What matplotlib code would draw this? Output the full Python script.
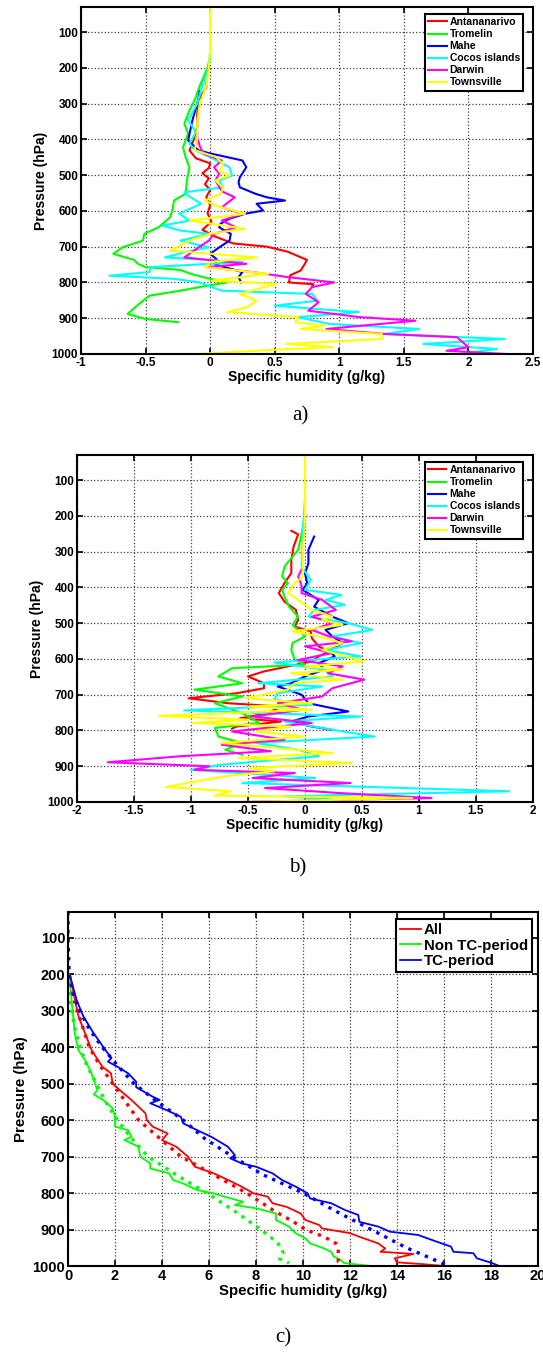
import numpy as np
import matplotlib
matplotlib.use("Agg")
import matplotlib.pyplot as plt

plt.rcParams['font.family'] = ['Liberation Sans', 'DejaVu Sans']

stations = ['Antananarivo', 'Tromelin', 'Mahe', 'Cocos islands', 'Darwin', 'Townsville']
colors = ['#ff0000', '#00ff00', '#0000ff', '#00ffff', '#ff00ff', '#ffff00']

# ---- panel a) ----
a_p_red = [243, 254, 291, 330, 366, 403, 431, 453, 467, 480, 495, 509, 525, 542, 561, 584, 607, 630, 653, 672, 691, 700, 714, 737, 750, 767, 780, 800, 805, 811]
a_q_red = [-0.03, -0.03, -0.09, -0.1, -0.1, -0.13, -0.16, -0.11, 0.0, -0.01, -0.06, -0.01, -0.04, 0.0, -0.03, 0.0, -0.02, 0.01, -0.06, 0.04, 0.18, 0.44, 0.6, 0.75, 0.73, 0.7, 0.62, 0.61, 0.8, 0.79]
a_p_green = [170, 200, 250, 290, 319, 356, 384, 422, 450, 478, 515, 552, 571, 595, 618, 646, 664, 683, 702, 720, 737, 748, 757, 765, 776, 790, 800, 812, 823, 837, 860, 888, 902, 911]
a_q_green = [0.0, -0.02, -0.08, -0.12, -0.16, -0.2, -0.17, -0.21, -0.19, -0.16, -0.18, -0.19, -0.28, -0.29, -0.31, -0.4, -0.51, -0.52, -0.68, -0.75, -0.59, -0.56, -0.5, -0.23, -0.15, 0.0, 0.13, -0.07, -0.23, -0.47, -0.55, -0.64, -0.5, -0.25]
a_p_blue = [265, 300, 350, 403, 431, 440, 459, 478, 506, 520, 534, 552, 562, 571, 580, 599, 608, 622, 636, 646, 664, 683, 702, 720, 735, 750, 771, 785, 800]
a_q_blue = [-0.08, -0.1, -0.14, -0.17, -0.09, 0.01, 0.25, 0.28, 0.23, 0.22, 0.23, 0.35, 0.44, 0.58, 0.36, 0.41, 0.27, 0.15, 0.08, 0.07, 0.16, 0.15, 0.07, 0.0, 0.05, 0.04, 0.25, 0.22, 0.24]
a_p_cyan = [150, 200, 250, 300, 347, 380, 412, 430, 450, 478, 501, 515, 534, 548, 560, 580, 608, 627, 641, 655, 664, 683, 702, 716, 730, 743, 757, 771, 781, 790, 800, 823, 832, 851, 865, 883, 897, 916, 930, 944, 958, 972, 986, 1000]
a_q_cyan = [0.0, -0.01, -0.06, -0.1, -0.17, -0.11, -0.16, -0.12, 0.0, 0.15, 0.17, 0.07, 0.1, -0.2, -0.16, -0.07, -0.24, -0.16, -0.37, -0.23, -0.01, -0.23, -0.01, -0.2, -0.35, 0.25, -0.46, -0.47, -0.78, -0.28, -0.08, 0.09, 0.79, 0.83, 0.5, 1.15, 0.68, 0.92, 1.62, 1.35, 2.28, 1.65, 2.22, 1.94]
a_p_mag = [380, 394, 420, 440, 459, 478, 496, 515, 545, 562, 590, 608, 627, 646, 664, 683, 702, 730, 748, 757, 771, 785, 800, 813, 832, 855, 879, 897, 907, 930, 944, 953, 981, 991, 1000]
a_q_mag = [-0.1, -0.1, -0.08, -0.05, 0.09, 0.03, 0.07, 0.04, 0.09, 0.19, 0.09, 0.25, 0.09, 0.2, 0.03, -0.01, -0.09, -0.2, 0.28, -0.03, 0.33, 0.6, 0.96, 0.79, 0.74, 0.84, 0.76, 1.16, 1.59, 0.9, 1.35, 1.91, 2.0, 1.83, 2.3]
a_p_yel = [30, 150, 200, 250, 300, 350, 400, 430, 450, 470, 490, 501, 515, 535, 552, 571, 585, 608, 627, 650, 664, 683, 711, 730, 743, 757, 776, 795, 804, 820, 832, 851, 869, 883, 897, 911, 921, 930, 944, 958, 972, 981, 989, 1000]
a_q_yel = [0.0, 0.0, -0.01, -0.03, -0.08, -0.1, -0.1, -0.12, 0.05, 0.1, 0.07, 0.15, 0.04, 0.1, 0.08, -0.04, 0.04, 0.27, -0.16, 0.27, 0.0, -0.16, -0.31, 0.36, 0.0, -0.04, 0.45, 0.01, 0.51, 0.35, 0.23, 0.36, 0.29, 0.13, 0.68, 0.66, 0.88, 0.7, 1.33, 1.33, 0.59, 0.95, 0.45, -0.11]

# ---- panel b) ----
b_p_red = [242, 252, 286, 323, 360, 388, 416, 440, 463, 491, 510, 523, 542, 565, 579, 593, 607, 621, 635, 649, 668, 682, 696, 710, 724, 733, 752, 766, 775, 789, 795]
b_q_red = [-0.12, -0.06, -0.1, -0.12, -0.12, -0.18, -0.23, -0.18, -0.08, -0.06, -0.09, 0.05, 0.06, 0.12, 0.21, 0.12, 0.06, -0.15, -0.36, -0.5, -0.36, -0.36, -0.6, -1.02, -0.67, -0.21, -0.33, -0.57, -0.21, -0.6, -0.64]
b_p_green = [200, 250, 295, 342, 370, 388, 407, 426, 454, 482, 505, 537, 556, 575, 603, 616, 626, 649, 668, 686, 705, 724, 752, 779, 793, 817, 835, 854, 868]
b_q_green = [0.0, -0.03, -0.06, -0.18, -0.2, -0.15, -0.2, -0.18, -0.14, -0.06, -0.11, 0.0, -0.11, -0.12, -0.09, 0.0, -0.64, -0.76, -0.55, -0.97, -0.55, -0.79, -0.55, -0.4, -0.79, -0.76, -0.55, -0.7, -0.55]
b_p_blue = [258, 295, 333, 361, 388, 407, 435, 454, 482, 500, 519, 537, 556, 575, 593, 612, 630, 649, 668, 677, 700, 724, 747, 761, 775, 789, 798]
b_q_blue = [0.08, 0.03, 0.03, 0.0, 0.02, -0.02, 0.12, 0.08, 0.24, 0.38, 0.18, 0.24, 0.33, 0.21, 0.26, 0.12, 0.17, 0.0, -0.12, -0.24, -0.03, 0.03, 0.38, 0.03, -0.12, 0.06, 0.23]
b_p_cyan = [150, 250, 342, 379, 407, 421, 435, 449, 463, 482, 500, 519, 537, 556, 575, 593, 610, 630, 649, 668, 677, 696, 714, 728, 744, 761, 775, 798, 817, 835, 854, 872, 896, 910, 933, 947, 970, 984, 993, 1000]
b_q_cyan = [0.0, -0.02, -0.03, 0.05, 0.0, 0.32, 0.18, 0.35, 0.08, 0.03, 0.38, 0.59, 0.24, 0.49, 0.18, 0.49, -0.27, 0.17, 0.24, -0.41, 0.15, -0.24, -0.27, 0.06, -1.06, 0.49, -0.18, 0.24, 0.61, -0.43, -0.06, 0.12, -0.74, -1.0, 0.09, -0.55, 1.79, -0.18, 0.24, -0.12]
b_p_mag = [350, 370, 395, 416, 435, 463, 482, 500, 519, 537, 551, 565, 584, 603, 621, 640, 658, 682, 705, 724, 742, 761, 779, 803, 826, 840, 858, 872, 889, 900, 910, 919, 933, 947, 961, 975, 989, 1000]
b_q_mag = [-0.03, -0.06, -0.03, -0.03, 0.15, 0.27, 0.06, 0.24, 0.06, 0.21, 0.41, 0.0, 0.23, -0.06, 0.33, 0.2, 0.52, 0.24, 0.15, -0.24, -0.02, -0.46, 0.06, -0.64, -0.18, -0.73, -0.3, -1.09, -1.73, -0.84, -0.97, -0.09, -0.46, 0.4, -0.35, 0.3, 1.11, -0.58]
b_p_yel = [30, 200, 300, 370, 388, 416, 435, 463, 482, 491, 505, 523, 537, 556, 575, 593, 607, 621, 630, 640, 658, 668, 686, 710, 724, 733, 742, 759, 770, 779, 789, 803, 817, 835, 849, 863, 877, 891, 905, 914, 928, 958, 970, 982, 989, 1000]
b_q_yel = [0.0, 0.0, -0.02, -0.02, -0.09, -0.15, -0.06, 0.06, 0.24, 0.15, 0.33, -0.11, 0.12, 0.33, 0.15, 0.36, 0.52, 0.0, 0.33, -0.12, 0.33, -0.09, -0.15, -0.52, 0.06, -0.49, 0.06, -1.28, -0.49, -0.99, -0.12, -0.43, 0.0, -0.74, -0.24, 0.24, -0.58, 0.41, -0.49, -0.27, -0.7, -1.22, -0.65, -0.79, 0.94, -0.55]

# ---- panel c) ----
periods = ['All', 'Non TC-period', 'TC-period']
c_p_all = [200, 208, 272, 317, 363, 408, 454, 472, 500, 518, 545, 582, 600, 618, 637, 655, 673, 700, 728, 746, 764, 783, 801, 810, 828, 838, 856, 874, 888, 897, 910, 920, 938, 952, 961, 967, 979, 990, 995, 1000]
c_q_all = [0.0, 0.1, 0.3, 0.45, 0.73, 1.0, 1.46, 1.83, 1.9, 2.2, 2.7, 3.3, 3.35, 3.6, 4.24, 4.0, 4.6, 5.1, 5.4, 6.2, 6.8, 7.4, 7.9, 8.5, 8.7, 9.3, 9.9, 10.1, 10.7, 10.8, 12.0, 12.4, 13.2, 13.5, 13.3, 14.7, 13.9, 14.0, 15.1, 16.0]
c_p_all_fit = [200, 250, 300, 350, 400, 450, 500, 550, 600, 650, 700, 750, 800, 850, 879, 900, 920, 938, 952, 970, 988, 993]
c_q_all_fit = [0.0, 0.15, 0.4, 0.65, 0.9, 1.35, 1.9, 2.45, 3.0, 3.9, 4.8, 6.2, 7.6, 8.8, 9.6, 10.1, 10.9, 11.4, 11.5, 11.5, 11.5, 11.6]
c_p_non = [200, 208, 272, 317, 363, 408, 436, 472, 504, 518, 530, 545, 568, 591, 618, 628, 646, 655, 673, 700, 719, 733, 746, 764, 774, 792, 801, 810, 824, 833, 842, 856, 874, 892, 911, 924, 938, 952, 961, 974, 983, 992, 1000]
c_q_non = [0.0, 0.07, 0.15, 0.22, 0.29, 0.44, 0.73, 1.0, 1.17, 1.25, 1.1, 1.5, 1.9, 2.0, 2.0, 2.56, 2.7, 2.4, 3.0, 3.07, 3.5, 3.5, 4.3, 4.46, 4.9, 5.5, 6.2, 6.65, 7.45, 7.1, 8.0, 8.85, 8.85, 9.4, 9.7, 10.1, 10.3, 10.9, 11.2, 11.3, 11.6, 11.75, 12.9]
c_p_non_fit = [200, 250, 300, 350, 400, 450, 500, 550, 600, 650, 700, 750, 800, 850, 900, 930, 950, 965, 980, 992]
c_q_non_fit = [0.0, 0.05, 0.15, 0.3, 0.5, 0.8, 1.2, 1.6, 2.1, 2.7, 3.4, 4.6, 5.9, 7.1, 8.2, 8.8, 9.1, 9.15, 9.0, 9.4]
c_p_tc = [200, 208, 272, 317, 363, 400, 422, 430, 440, 454, 472, 495, 510, 536, 545, 554, 573, 591, 609, 628, 646, 673, 696, 705, 719, 728, 746, 764, 783, 801, 815, 828, 847, 860, 879, 892, 906, 915, 929, 947, 961, 965, 979, 992, 1000]
c_q_tc = [0.0, 0.1, 0.37, 0.66, 1.1, 1.5, 1.75, 1.85, 1.7, 2.1, 2.56, 2.9, 2.9, 3.6, 3.9, 3.5, 4.2, 4.8, 4.9, 5.5, 6.1, 6.8, 7.1, 6.9, 7.4, 8.0, 8.7, 9.1, 9.7, 10.2, 10.3, 11.2, 11.8, 12.35, 12.4, 13.2, 13.7, 14.9, 15.5, 16.3, 16.4, 17.25, 17.4, 18.05, 18.35]
c_p_tc_fit = [30, 100, 200, 250, 300, 350, 400, 450, 500, 550, 600, 650, 700, 750, 800, 850, 900, 950, 1000]
c_q_tc_fit = [0.0, 0.0, 0.05, 0.2, 0.5, 0.9, 1.45, 2.1, 2.8, 3.8, 4.9, 5.8, 7.0, 8.3, 10.0, 11.4, 12.9, 14.4, 16.2]

p_ticks = [100, 200, 300, 400, 500, 600, 700, 800, 900, 1000]


def style_axes(ax, xlim, xticks, xticklabels, fs_tick, fs_label):
    ax.set_ylim(1000, 30)
    ax.set_xlim(*xlim)
    ax.set_yticks(p_ticks)
    ax.set_xticks(xticks)
    ax.set_xticklabels(xticklabels)
    ax.grid(True, linestyle=':', color='0.25', linewidth=0.9)
    ax.tick_params(direction='in', top=True, right=True, length=4, width=1.2,
                   labelsize=fs_tick, pad=2)
    for lab in ax.get_xticklabels() + ax.get_yticklabels():
        lab.set_fontweight('bold')
    for sp in ax.spines.values():
        sp.set_linewidth(1.5)
    ax.set_xlabel('Specific humidity (g/kg)', fontsize=fs_label, fontweight='bold', labelpad=1)
    ax.set_ylabel('Pressure (hPa)', fontsize=fs_label, fontweight='bold', labelpad=3)


fig = plt.figure(figsize=(5.43, 13.54), dpi=100)
W, H = 543.0, 1354.0

def add_axes(x0, x1, ytop, ybot):
    return fig.add_axes([x0 / W, 1 - ybot / H, (x1 - x0) / W, (ybot - ytop) / H])

# panel a
ax1 = add_axes(81, 533, 7, 354)
a_data = [(a_q_red, a_p_red), (a_q_green, a_p_green), (a_q_blue, a_p_blue),
          (a_q_cyan, a_p_cyan), (a_q_mag, a_p_mag), (a_q_yel, a_p_yel)]
for (q, p), c, name in zip(a_data, colors, stations):
    ax1.plot(q, p, color=c, lw=1.5, label=name)
style_axes(ax1, (-1, 2.5), [-1, -0.5, 0, 0.5, 1, 1.5, 2, 2.5],
           ['-1', '-0.5', '0', '0.5', '1', '1.5', '2', '2.5'], 8.5, 10)
leg = ax1.legend(loc='upper right', bbox_to_anchor=(0.978, 0.98), borderaxespad=0,
                 fancybox=False, framealpha=1, edgecolor='k', handlelength=1.8,
                 handletextpad=0.3, labelspacing=0.2, borderpad=0.3,
                 prop={'size': 7.5, 'weight': 'bold'})
leg.get_frame().set_linewidth(1.5)

# panel b
ax2 = add_axes(77, 533, 455, 802)
b_data = [(b_q_red, b_p_red), (b_q_green, b_p_green), (b_q_blue, b_p_blue),
          (b_q_cyan, b_p_cyan), (b_q_mag, b_p_mag), (b_q_yel, b_p_yel)]
for (q, p), c, name in zip(b_data, colors, stations):
    ax2.plot(q, p, color=c, lw=1.5, label=name)
style_axes(ax2, (-2, 2), [-2, -1.5, -1, -0.5, 0, 0.5, 1, 1.5, 2],
           ['-2', '-1.5', '-1', '-0.5', '0', '0.5', '1', '1.5', '2'], 8.5, 10)
leg = ax2.legend(loc='upper right', bbox_to_anchor=(0.978, 0.98), borderaxespad=0,
                 fancybox=False, framealpha=1, edgecolor='k', handlelength=1.8,
                 handletextpad=0.3, labelspacing=0.2, borderpad=0.3,
                 prop={'size': 7.5, 'weight': 'bold'})
leg.get_frame().set_linewidth(1.5)

# panel c
ax3 = add_axes(68, 538, 912, 1266)
dots = (0, (1, 1.7))
ax3.plot(c_q_all, c_p_all, color='#ff0000', lw=1.3, label=periods[0])
ax3.plot(c_q_non, c_p_non, color='#00ff00', lw=1.3, label=periods[1])
ax3.plot(c_q_tc, c_p_tc, color='#0000ff', lw=1.3, label=periods[2])
ax3.plot(c_q_all_fit, c_p_all_fit, color='#ff0000', lw=2.4, ls=dots)
ax3.plot(c_q_non_fit, c_p_non_fit, color='#00ff00', lw=2.4, ls=dots)
ax3.plot(c_q_tc_fit, c_p_tc_fit, color='#0000ff', lw=2.4, ls=dots)
style_axes(ax3, (0, 20), list(range(0, 21, 2)), [str(v) for v in range(0, 21, 2)], 10.5, 10.8)
leg = ax3.legend(loc='upper right', bbox_to_anchor=(0.987, 0.98), borderaxespad=0,
                 fancybox=False, framealpha=1, edgecolor='k', handlelength=1.4,
                 handletextpad=0.2, labelspacing=0.12, borderpad=0.25,
                 prop={'size': 10.8, 'weight': 'bold'})
leg.get_frame().set_linewidth(1.5)

# captions
for x, y, t in [(300, 416, 'a)'), (298, 868, 'b)'), (283, 1338, 'c)')]:
    fig.text(x / W, 1 - y / H, t, ha='center', va='center', fontsize=15,
             family=['Liberation Serif', 'DejaVu Serif'])

fig.savefig('out.png', dpi=100)
